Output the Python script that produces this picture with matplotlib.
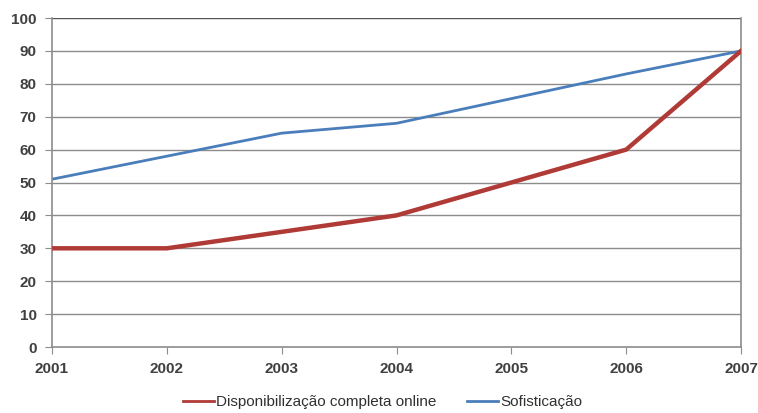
import matplotlib
matplotlib.use("Agg")
import matplotlib.pyplot as plt

plt.rcParams['font.family'] = ['Liberation Sans', 'DejaVu Sans']

years = [2001, 2002, 2003, 2004, 2005, 2006, 2007]
disponibilizacao = [30, 30, 35, 40, 50, 60, 90]
sofisticacao = [51, 58, 65, 68, 75.5, 83, 90]
yticks = list(range(0, 101, 10))

fig = plt.figure(figsize=(7.58, 4.13), dpi=100)
ax = fig.add_axes([0.0686, 0.1598, 0.9090, 0.7966])

for y in yticks[1:]:
    ax.axhline(y, color="#8c8c8c" if y < 100 else "#555555", lw=1.0, zorder=1)

ax.plot(years, disponibilizacao, color="#b03a36", lw=3.2, label="Disponibilização completa online", zorder=3)
ax.plot(years, sofisticacao, color="#4a7ebb", lw=2.0, label="Sofisticação", zorder=2)

ax.set_xlim(2001, 2007)
ax.set_ylim(0, 100)
ax.set_xticks(years)
ax.set_yticks(yticks)
ax.spines["top"].set_visible(False)
for s in ["left", "right", "bottom"]:
    ax.spines[s].set_color("#8c8c8c")
    ax.spines[s].set_linewidth(1.2)
ax.tick_params(axis="both", direction="out", length=5, color="#8c8c8c",
               labelsize=11, labelcolor="#404040", pad=6)
for lbl in ax.get_xticklabels() + ax.get_yticklabels():
    lbl.set_fontweight("bold")

# legend sits a bit left of the axes centre in the original
leg = ax.legend(loc="upper center", bbox_to_anchor=(0.48, -0.105), ncol=2, frameon=False,
                fontsize=11, handlelength=2.0, columnspacing=2.0, handletextpad=0.15,
                labelcolor="#303030")
for h in leg.get_lines():
    h.set_linewidth(2.0)

fig.savefig("out.png", dpi=100)
